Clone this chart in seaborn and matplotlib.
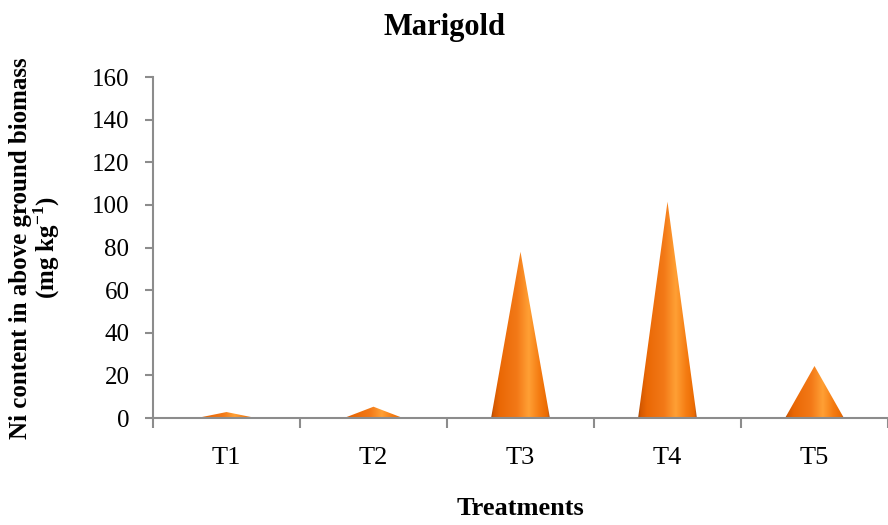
import numpy as np
import pandas as pd
import matplotlib
matplotlib.use("Agg")
import matplotlib.pyplot as plt
from matplotlib.colors import LinearSegmentedColormap
from matplotlib.patches import Polygon
import seaborn as sns

# Ni content (mg/kg) in above-ground biomass of marigold per treatment
treatments = ["T1", "T2", "T3", "T4", "T5"]
ni_content = [2.8, 5.3, 78.0, 101.5, 24.4]

y_ticks = [0, 20, 40, 60, 80, 100, 120, 140, 160]

sns.set_theme(style="white")
plt.rcParams["font.family"] = ["Liberation Serif", "DejaVu Serif"]
plt.rcParams["text.color"] = "black"
plt.rcParams["mathtext.fontset"] = "custom"
plt.rcParams["mathtext.rm"] = "Liberation Serif:bold"
plt.rcParams["mathtext.bf"] = "Liberation Serif:bold"

axis_gray = "#8c8c8c"

fig = plt.figure(figsize=(8.88, 5.25), dpi=100)
ax = fig.add_axes([0.1723, 0.2038, 0.8277, 0.6495])

df = pd.DataFrame({"Treatment": treatments, "Ni": ni_content})
sns.barplot(data=df, x="Treatment", y="Ni", width=0.4, ax=ax,
            color="#f07010", errorbar=None)

# shading across the cone surface: thin dark rim, highlight right of centre
cone_cmap = LinearSegmentedColormap.from_list(
    "cone",
    [(0.0, "#9a4000"), (0.04, "#d45800"), (0.15, "#ea6805"),
     (0.45, "#f37a18"), (0.64, "#ffa035"), (0.82, "#f57c12"),
     (0.96, "#ea6a02"), (1.0, "#a05020")],
)
grad = np.linspace(0, 1, 256).reshape(1, -1)

for patch in list(ax.patches):
    x0 = patch.get_x()
    w = patch.get_width()
    h = patch.get_height()
    patch.remove()
    verts = [(x0, 0), (x0 + w / 2, h), (x0 + w, 0)]
    tri = Polygon(verts, closed=True, facecolor="none", edgecolor="none")
    ax.add_patch(tri)
    im = ax.imshow(grad, cmap=cone_cmap, aspect="auto",
                   extent=[x0, x0 + w, 0, h], origin="lower",
                   interpolation="bilinear", zorder=2)
    im.set_clip_path(tri)

ax.set_xlim(-0.5, len(treatments) - 0.5)
ax.set_ylim(0, 160)
ax.set_yticks(y_ticks)
ax.set_yticklabels([str(v) for v in y_ticks], fontsize=18, color="black")
ax.set_xticks(range(len(treatments)))
ax.set_xticklabels(treatments, fontsize=19, color="black")
ax.set_xticks(np.arange(-0.5, len(treatments), 1.0), minor=True)

ax.tick_params(axis="x", which="major", length=0, pad=21, bottom=True)
ax.tick_params(axis="x", which="minor", length=7, width=1.5, bottom=True,
               color=axis_gray, direction="out")
ax.tick_params(axis="y", which="major", length=6, width=1.5, left=True,
               color=axis_gray, direction="out", pad=11)

for side in ["top", "right"]:
    ax.spines[side].set_visible(False)
for side in ["left", "bottom"]:
    ax.spines[side].set_color(axis_gray)
    ax.spines[side].set_linewidth(1.5)

ax.set_xlabel("")
ax.set_ylabel("")
ax.grid(False)

fig.text(0.5, 0.948, "Marigold", ha="center", va="center",
         fontsize=22, fontweight="bold", color="black")
fig.text(0.5862, 0.032, "Treatments", ha="center", va="center",
         fontsize=19, fontweight="bold", color="black")
fig.text(0.040, 0.528, "Ni content in above ground biomass\n(mg kg$^{-1}$)",
         ha="center", va="center", rotation=90, fontsize=18,
         fontweight="bold", linespacing=1.0, color="black")

fig.savefig("out.png", dpi=100, facecolor="white")
